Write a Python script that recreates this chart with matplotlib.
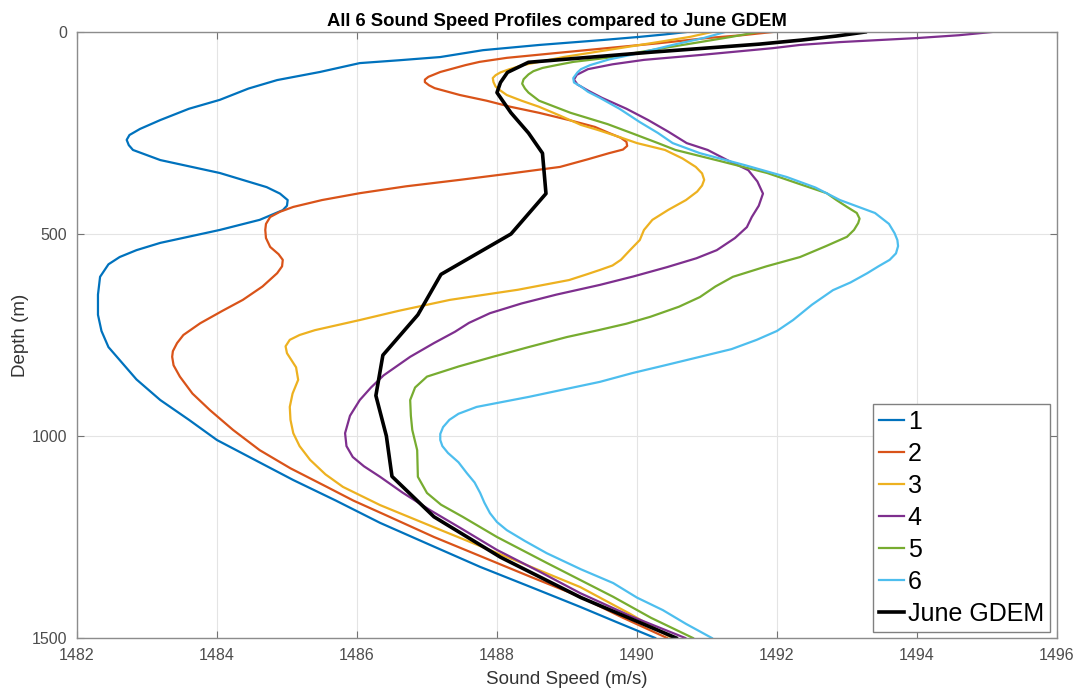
import matplotlib
matplotlib.use('Agg')
import matplotlib.pyplot as plt

plt.rcParams['font.family'] = ['Liberation Sans', 'DejaVu Sans']

# ============ DATA ============
labels = ['1', '2', '3', '4', '5', '6', 'June GDEM']
colors = ['#0072BD', '#D95319', '#EDB120', '#7E2F8E', '#77AC30', '#4DBEEE', 'black']

depth1 = [0, 6, 12, 20, 32, 45, 62, 70, 77, 99, 119, 140, 168, 190, 218, 240, 255, 267,
          280, 292, 317, 349, 384, 400, 416, 430, 441, 465, 490, 522, 540, 557, 575, 606,
          650, 700, 740, 780, 812, 860, 911, 960, 1010, 1060, 1109, 1160, 1215, 1270, 1324,
          1375, 1423, 1460, 1500]
speed1 = [1490.71, 1490.4, 1490.04, 1489.5, 1488.61, 1487.8, 1487.19, 1486.6, 1486.04,
          1485.47, 1484.86, 1484.45, 1484.04, 1483.6, 1483.19, 1482.9, 1482.75, 1482.71,
          1482.74, 1482.8, 1483.19, 1484.04, 1484.71, 1484.9, 1485.01, 1485.0, 1484.94,
          1484.61, 1484.04, 1483.19, 1482.85, 1482.61, 1482.45, 1482.33, 1482.3, 1482.3,
          1482.35, 1482.45, 1482.61, 1482.85, 1483.19, 1483.6, 1484.0, 1484.55, 1485.09,
          1485.7, 1486.33, 1487.05, 1487.76, 1488.5, 1489.19, 1489.7, 1490.26]

depth2 = [0, 8, 15, 28, 40, 52, 64, 74, 82, 99, 111, 118, 124, 132, 139, 156, 170, 185,
          200, 218, 235, 250, 262, 272, 282, 291, 300, 315, 334, 350, 366, 382, 399, 416,
          433, 445, 458, 475, 490, 510, 532, 550, 564, 580, 597, 630, 663, 690, 721, 750,
          770, 790, 804, 825, 853, 895, 936, 985, 1035, 1080, 1126, 1160, 1195, 1250, 1300,
          1350, 1398, 1450, 1500]
speed2 = [1491.94, 1491.5, 1491.0, 1490.3, 1489.57, 1488.85, 1488.14, 1487.75, 1487.55,
          1487.19, 1487.02, 1486.97, 1486.97, 1487.03, 1487.11, 1487.47, 1487.85, 1488.19,
          1488.6, 1489.03, 1489.4, 1489.6, 1489.77, 1489.85, 1489.86, 1489.8, 1489.6, 1489.3,
          1488.9, 1488.2, 1487.47, 1486.7, 1486.04, 1485.5, 1485.09, 1484.9, 1484.76, 1484.7,
          1484.69, 1484.7, 1484.76, 1484.88, 1484.94, 1484.93, 1484.86, 1484.65, 1484.37,
          1484.08, 1483.76, 1483.52, 1483.43, 1483.37, 1483.36, 1483.38, 1483.47, 1483.65,
          1483.9, 1484.23, 1484.61, 1485.05, 1485.57, 1485.95, 1486.4, 1487.1, 1487.8,
          1488.5, 1489.19, 1489.8, 1490.43]

depth3 = [0, 12, 25, 45, 62, 82, 92, 100, 107, 114, 124, 135, 145, 156, 170, 185, 207,
          230, 243, 260, 275, 292, 313, 334, 350, 366, 380, 395, 416, 440, 465, 490, 515,
          540, 564, 578, 589, 600, 614, 638, 663, 690, 713, 738, 750, 762, 778, 795, 830,
          861, 895, 928, 960, 993, 1025, 1059, 1095, 1126, 1171, 1233, 1300, 1374, 1440, 1500]
speed3 = [1491.07, 1490.76, 1490.3, 1489.57, 1488.95, 1488.37, 1488.18, 1488.05, 1487.98,
          1487.94, 1487.95, 1487.98, 1488.05, 1488.14, 1488.35, 1488.6, 1488.9, 1489.2,
          1489.45, 1489.75, 1490.0, 1490.4, 1490.65, 1490.84, 1490.93, 1490.96, 1490.93,
          1490.86, 1490.7, 1490.45, 1490.22, 1490.1, 1490.04, 1489.9, 1489.77, 1489.65,
          1489.47, 1489.28, 1489.03, 1488.3, 1487.33, 1486.6, 1486.04, 1485.4, 1485.18,
          1485.04, 1484.98, 1485.0, 1485.13, 1485.16, 1485.08, 1485.04, 1485.05, 1485.09,
          1485.18, 1485.33, 1485.55, 1485.8, 1486.33, 1487.2, 1488.15, 1489.19, 1489.9, 1490.5]

depth4 = [0, 8, 15, 25, 32, 40, 57, 69, 80, 92, 106, 118, 130, 145, 163, 190, 218, 247,
          275, 292, 318, 342, 370, 400, 430, 458, 483, 510, 540, 560, 582, 605, 626, 650,
          672, 696, 720, 742, 770, 804, 850, 880, 911, 950, 993, 1025, 1052, 1075, 1101,
          1140, 1183, 1230, 1282, 1335, 1389, 1445, 1500]
speed4 = [1495.07, 1494.6, 1494.0, 1492.9, 1492.33, 1491.94, 1490.9, 1490.1, 1489.65,
          1489.3, 1489.14, 1489.1, 1489.15, 1489.3, 1489.5, 1489.85, 1490.16, 1490.45,
          1490.71, 1491.01, 1491.3, 1491.59, 1491.72, 1491.8, 1491.74, 1491.64, 1491.57,
          1491.4, 1491.14, 1490.85, 1490.43, 1489.95, 1489.47, 1488.85, 1488.35, 1487.9,
          1487.6, 1487.4, 1487.1, 1486.76, 1486.38, 1486.2, 1486.04, 1485.9, 1485.83,
          1485.85, 1485.94, 1486.1, 1486.33, 1486.65, 1487.04, 1487.5, 1488.0, 1488.6,
          1489.19, 1489.9, 1490.69]

depth5 = [0, 12, 25, 45, 64, 74, 82, 89, 97, 105, 117, 128, 140, 150, 170, 200, 228, 252,
          275, 292, 320, 349, 375, 399, 416, 433, 448, 462, 473, 490, 507, 530, 557, 580,
          606, 630, 656, 680, 705, 722, 738, 755, 780, 804, 828, 853, 880, 911, 950, 985,
          1035, 1101, 1141, 1170, 1200, 1250, 1314, 1398, 1450, 1500]
speed5 = [1491.73, 1491.35, 1490.9, 1490.2, 1489.57, 1489.09, 1488.85, 1488.65, 1488.52,
          1488.45, 1488.38, 1488.36, 1488.4, 1488.45, 1488.6, 1489.05, 1489.58, 1489.95,
          1490.3, 1490.55, 1491.2, 1491.86, 1492.3, 1492.71, 1492.85, 1493.0, 1493.14,
          1493.18, 1493.16, 1493.1, 1493.0, 1492.7, 1492.33, 1491.85, 1491.37, 1491.12,
          1490.9, 1490.6, 1490.19, 1489.85, 1489.45, 1489.0, 1488.45, 1487.94, 1487.45,
          1487.0, 1486.83, 1486.76, 1486.77, 1486.79, 1486.86, 1486.87, 1487.0, 1487.2,
          1487.51, 1488.0, 1488.71, 1489.66, 1490.2, 1490.8]

depth6 = [0, 15, 32, 52, 68, 82, 92, 100, 114, 125, 135, 148, 163, 190, 223, 250, 275,
          300, 330, 359, 385, 416, 448, 475, 498, 515, 530, 548, 564, 580, 597, 620, 639,
          675, 713, 740, 762, 785, 804, 825, 844, 866, 885, 903, 915, 928, 945, 960, 978,
          995, 1010, 1025, 1042, 1065, 1092, 1115, 1141, 1165, 1191, 1213, 1233, 1260, 1290,
          1330, 1364, 1400, 1431, 1465, 1500]
speed6 = [1491.26, 1490.95, 1490.51, 1490.04, 1489.6, 1489.33, 1489.2, 1489.15, 1489.09,
          1489.1, 1489.2, 1489.3, 1489.47, 1489.75, 1490.04, 1490.3, 1490.51, 1490.9,
          1491.55, 1492.14, 1492.55, 1492.9, 1493.4, 1493.6, 1493.68, 1493.72, 1493.73,
          1493.7, 1493.61, 1493.45, 1493.29, 1493.05, 1492.8, 1492.5, 1492.23, 1492.0,
          1491.71, 1491.35, 1490.9, 1490.4, 1489.94, 1489.47, 1488.95, 1488.46, 1488.1,
          1487.71, 1487.45, 1487.32, 1487.23, 1487.19, 1487.19, 1487.22, 1487.3, 1487.45,
          1487.57, 1487.68, 1487.76, 1487.82, 1487.9, 1488.0, 1488.14, 1488.4, 1488.71,
          1489.2, 1489.66, 1490.0, 1490.37, 1490.7, 1491.07]

depth_gdem = [0, 10, 20, 30, 50, 75, 100, 125, 150, 200, 250, 300, 400, 500, 600, 700,
              800, 900, 1000, 1100, 1200, 1300, 1400, 1500]
speed_gdem = [1493.26, 1492.85, 1492.35, 1491.75, 1490.2, 1488.45, 1488.15, 1488.05, 1488.0,
              1488.2, 1488.45, 1488.65, 1488.7, 1488.2, 1487.2, 1486.87, 1486.37, 1486.27,
              1486.42, 1486.5, 1487.1, 1488.05, 1489.2, 1490.56]

xticks = [1482, 1484, 1486, 1488, 1490, 1492, 1494, 1496]
yticks = [0, 500, 1000, 1500]
# =======================================================

depths = [depth1, depth2, depth3, depth4, depth5, depth6, depth_gdem]
speeds = [speed1, speed2, speed3, speed4, speed5, speed6, speed_gdem]

fig = plt.figure(figsize=(10.78, 6.91), dpi=100)
ax = fig.add_axes([0.0714, 0.0767, 0.9091, 0.877])

for d, s, lab, c in zip(depths, speeds, labels, colors):
    lw = 2.6 if lab == 'June GDEM' else 1.6
    ax.plot(s, d, color=c, lw=lw, label=lab, solid_joinstyle='round')

ax.set_xlim(1482, 1496)
ax.set_ylim(1500, 0)
ax.set_xticks(xticks)
ax.set_yticks(yticks)
ax.grid(True, color='#e4e4e4', lw=0.8)
ax.set_axisbelow(True)
ax.tick_params(direction='in', top=True, right=True, length=5, width=0.8,
               labelsize=11.5, colors='0.45', labelcolor='0.3', pad=7)
for sp in ax.spines.values():
    sp.set_color('0.55')
    sp.set_linewidth(1.0)

ax.set_title('All 6 Sound Speed Profiles compared to June GDEM',
             fontsize=13.3, fontweight='bold', pad=4, x=0.49)
ax.set_xlabel('Sound Speed (m/s)', fontsize=13.5, color='0.2', labelpad=6)
ax.set_ylabel('Depth (m)', fontsize=13.5, color='0.2', labelpad=2)

leg = ax.legend(loc='lower right', bbox_to_anchor=(1050 / 1078, 1 - 632 / 691),
                bbox_transform=fig.transFigure, borderaxespad=0, fontsize=18,
                handlelength=1.0, handletextpad=0.15, labelspacing=0.32,
                borderpad=0.25, fancybox=False, framealpha=1)
leg.get_frame().set_edgecolor('0.5')
leg.get_frame().set_linewidth(1.0)

fig.savefig('out.png', dpi=100)
